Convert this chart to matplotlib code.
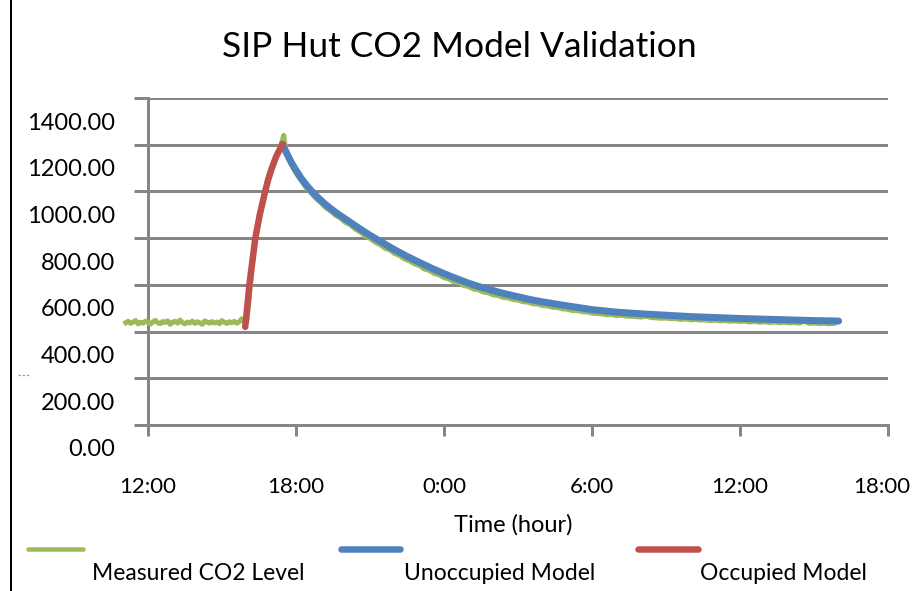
import numpy as np
import matplotlib
matplotlib.use("Agg")
import matplotlib.pyplot as plt
import matplotlib.transforms as mtransforms
from matplotlib.lines import Line2D

plt.rcParams['font.family'] = ['Lato', 'DejaVu Sans']

# ---------------- data ----------------
title = "SIP Hut CO2 Model Validation"
x_label = "Time (hour)"
series_names = ["Measured CO2 Level", "Unoccupied Model", "Occupied Model"]
x_ticks = [12, 18, 24, 30, 36, 42]
x_tick_labels = ["12:00", "18:00", "0:00", "6:00", "12:00", "18:00"]
y_ticks = [0, 200, 400, 600, 800, 1000, 1200, 1400]
y_tick_labels = ["0.00", "200.00", "400.00", "600.00", "800.00", "1000.00", "1200.00", "1400.00"]

# measured CO2 (hours since midnight of day 1)
meas_base_t = np.linspace(11.1, 15.9, 49)
meas_base_v = [438, 444, 435, 441, 447, 433, 440, 436, 445, 439,
               432, 442, 448, 437, 434, 443, 439, 446, 431, 440,
               444, 436, 449, 438, 433, 441, 437, 445, 435, 442,
               438, 431, 446, 440, 436, 443, 437, 441, 434, 447,
               439, 435, 442, 438, 444, 436, 441, 455, 443]
meas_rise_t = np.linspace(16.0, 17.5, 16)
meas_rise_v = [440, 540, 650, 750, 830, 880, 935, 980, 1025, 1060, 1095, 1125,
               1150, 1175, 1200, 1240]
meas_decay_t = np.linspace(17.6, 39.8, 112)
meas_decay_v = [1165, 1118, 1079, 1049, 1018, 995, 971, 953, 931, 917,
                898, 886, 868, 858, 839, 827, 810, 799, 783, 773,
                757, 750, 734, 726, 711, 703, 690, 683, 668, 662,
                649, 643, 631, 625, 614, 609, 597, 593, 582, 579,
                569, 566, 557, 554, 546, 544, 537, 535, 528, 526,
                519, 518, 511, 510, 504, 503, 497, 496, 490, 490,
                485, 484, 479,
                477, 476, 472, 473, 468, 470, 466, 465, 464, 462,
                466, 460, 459, 457, 458, 455, 456, 452, 454, 450,
                452, 449, 450, 447, 449, 446, 447, 444, 446, 443,
                445, 441, 443, 440, 442, 439, 441, 438, 440, 437,
                439, 436, 445, 435, 437, 434, 436, 433, 435]

# unoccupied model (decay)
unocc_t = [17.45, 17.6, 17.8, 18.0, 18.2, 18.4, 18.6, 18.8, 19.0, 19.2, 19.4,
           19.6, 19.8, 20.0, 20.5, 21.0, 21.5, 22.0, 22.5, 23.0, 23.5, 24.0,
           24.5, 25.0, 25.5, 26.0, 26.5, 27.0, 27.5, 28.0, 29.0, 30.0, 31.0,
           32.0, 33.0, 34.0, 35.0, 36.0, 37.0, 38.0, 39.0, 40.0]
unocc_v = [1202, 1168, 1126, 1090, 1058, 1030, 1005, 983, 963, 944, 927,
           911, 896, 882, 846, 812, 781, 750, 722, 696, 671, 648,
           627, 607, 590, 575, 561, 549, 537, 527, 510, 494, 483,
           476, 470, 464, 460, 456, 453, 450, 447, 445]

# occupied model (rise)
occ_t = [15.94, 16.02, 16.11, 16.23, 16.35, 16.53, 16.75, 16.87, 17.02, 17.2, 17.45]
occ_v = [420, 500, 600, 700, 800, 900, 1000, 1050, 1100, 1150, 1202]

meas_t = np.concatenate([meas_base_t, meas_rise_t, meas_decay_t])
meas_v = np.concatenate([meas_base_v, meas_rise_v, meas_decay_v])

# ---------------- styling ----------------
W, H = 914, 591
GREEN = "#9BBB59"
BLUE = "#4F81BD"
RED = "#C0504D"
GRID = "#868686"
px = 72 / 100.0  # points per pixel

fig = plt.figure(figsize=(W / 100, H / 100), dpi=100)
fig.patch.set_facecolor("white")

ax = fig.add_axes([148 / W, 1 - 425 / H, (888 - 148) / W, (425 - 98) / H])
ax.set_xlim(12, 42)
ax.set_ylim(0, 1400)

ax.plot(meas_t, meas_v, color=GREEN, lw=5 * px, zorder=3, clip_on=False,
        solid_joinstyle="round")
ax.plot(unocc_t, unocc_v, color=BLUE, lw=7 * px, zorder=4, clip_on=False,
        solid_capstyle="round", solid_joinstyle="round")
ax.plot(occ_t, occ_v, color=RED, lw=6.5 * px, zorder=5, clip_on=False,
        solid_capstyle="round", solid_joinstyle="round")

for s in ["top", "right"]:
    ax.spines[s].set_visible(False)
for s in ["left", "bottom"]:
    ax.spines[s].set_color(GRID)
    ax.spines[s].set_linewidth(3 * px)
    ax.spines[s].set_zorder(2)

ax.set_yticks(y_ticks)
ax.set_yticklabels(y_tick_labels)
ax.set_xticks(x_ticks)
ax.set_xticklabels(x_tick_labels)
ax.yaxis.grid(True, color=GRID, lw=3 * px, zorder=1)
ax.set_axisbelow(True)
ax.tick_params(axis="y", length=10, width=3 * px, color=GRID, pad=19 * px,
               labelsize=17)
ax.tick_params(axis="x", length=8, width=3 * px, color=GRID, pad=41 * px,
               labelsize=16)

# y tick labels sit half an interval below their gridlines
off = mtransforms.ScaledTranslation(0, -23 / 100, fig.dpi_scale_trans)
for lab in ax.get_yticklabels():
    lab.set_transform(lab.get_transform() + off)
# keep the last x label inside the figure edge
xl = ax.get_xticklabels()
xl[-1].set_transform(xl[-1].get_transform() +
                     mtransforms.ScaledTranslation(-6 / 100, 0, fig.dpi_scale_trans))

fig.text(459 / W, 1 - 47 / H, title, ha="center", va="center", fontsize=25.5)
fig.text(513 / W, 1 - 525 / H, x_label, ha="center", va="center", fontsize=17)

# legend (drawn manually to match the layout)
leg = [(28, 83, 92, GREEN, 4.5), (341, 400, 404, BLUE, 6.5), (638, 698, 700, RED, 6.5)]
for (x0, x1, xt, c, lw), name in zip(leg, series_names):
    fig.add_artist(Line2D([x0 / W, x1 / W], [1 - 549 / H, 1 - 549 / H],
                          transform=fig.transFigure, color=c, lw=lw * px,
                          solid_capstyle="round"))
    fig.text(xt / W, 1 - 574 / H, name, ha="left", va="center", fontsize=16.5)

# left border line
fig.add_artist(Line2D([11 / W, 11 / W], [0, 1], transform=fig.transFigure,
                      color="black", lw=2 * px))
# small stray mark at left
fig.add_artist(Line2D([18 / W, 30 / W], [1 - 375 / H, 1 - 375 / H],
                      transform=fig.transFigure, color="#7f9cc4", lw=1.2 * px,
                      dashes=(2, 1.5)))

fig.savefig("out.png", dpi=100, facecolor="white")
